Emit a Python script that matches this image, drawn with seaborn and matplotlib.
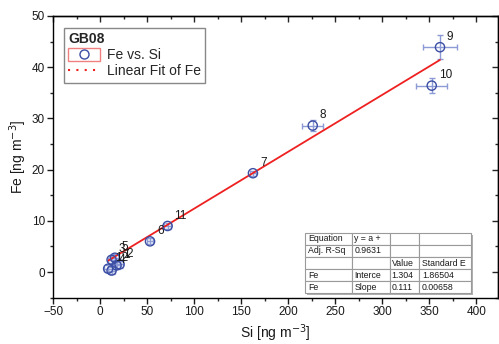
import matplotlib
matplotlib.use("Agg")
import matplotlib.pyplot as plt
import seaborn as sns
import numpy as np
import pandas as pd
from matplotlib.patches import Rectangle
from matplotlib.lines import Line2D
from matplotlib.legend_handler import HandlerTuple
from matplotlib.ticker import MultipleLocator

# ---- data ----
point_labels = ["1", "2", "3", "4", "5", "6", "7", "8", "9", "10", "11", "12"]
si = [17.3, 20.5, 12.0, 12.0, 15.5, 52.9, 162.4, 226.0, 361.4, 352.6, 71.6, 8.4]
fe = [1.3, 1.5, 2.4, 0.3, 2.8, 6.0, 19.3, 28.6, 43.9, 36.4, 9.0, 0.66]
si_err = [4.0, 4.0, 4.0, 4.0, 4.0, 3.5, 3.0, 11.0, 18.6, 16.4, 4.0, 4.0]
fe_err = [0.7, 0.7, 0.7, 0.7, 0.7, 0.6, 0.5, 1.1, 2.3, 1.5, 0.6, 0.7]

fit_intercept = 1.304
fit_slope = 0.111

table_rows = [
    ["Equation", "y = a +", "", ""],
    ["Adj. R-Sq", "0.9631", "", ""],
    ["", "", "Value", "Standard E"],
    ["Fe", "Interce", "1.304", "1.86504"],
    ["Fe", "Slope", "0.111", "0.00658"],
]

df = pd.DataFrame({"Si": si, "Fe": fe, "label": point_labels})

sns.set_theme(style="ticks")
plt.rcParams['font.family'] = ['Liberation Sans', 'DejaVu Sans']

fig = plt.figure(figsize=(4.99, 3.44), dpi=100)
ax = fig.add_axes([0.1068, 0.1346, 0.891, 0.819])

marker_color = "#3b4ea3"
err_color = "#8c9bd6"
fit_color = "#ee2020"

ax.errorbar(df["Si"], df["Fe"], xerr=si_err, yerr=fe_err, fmt="none",
            ecolor=err_color, elinewidth=1, capsize=2.5, capthick=1, zorder=2)

# fit line from table values
x_fit = np.array([min(si), max(si)])
y_fit = fit_intercept + fit_slope * x_fit
sns.lineplot(x=x_fit, y=y_fit, color=fit_color, linewidth=1.3, ax=ax, zorder=3)

sns.scatterplot(data=df, x="Si", y="Fe", marker="o", s=44, ax=ax, zorder=4,
                edgecolor=marker_color, linewidth=1.0)
ax.collections[-1].set_facecolor("none")
ax.collections[-1].set_edgecolor(marker_color)

for _, r in df.iterrows():
    ax.annotate(r["label"], (r["Si"], r["Fe"]), xytext=(5, 7.5),
                textcoords="offset points", ha="left", va="center",
                fontsize=8.5, color="#1a1a1a", zorder=5)

ax.set_xlim(-50, 423)
ax.set_ylim(-5, 50)
ax.xaxis.set_major_locator(MultipleLocator(50))
ax.xaxis.set_minor_locator(MultipleLocator(25))
ax.yaxis.set_major_locator(MultipleLocator(10))
ax.yaxis.set_minor_locator(MultipleLocator(5))
ax.tick_params(which="major", direction="out", length=4, width=1, labelsize=8.5,
               colors="#1a1a1a", pad=2)
ax.tick_params(which="minor", direction="out", length=2, width=1)

for sp in ax.spines.values():
    sp.set_visible(True)
    sp.set_color("black")
    sp.set_linewidth(1)

secx = ax.secondary_xaxis("top")
secx.xaxis.set_major_locator(MultipleLocator(50))
secx.xaxis.set_minor_locator(MultipleLocator(25))
secx.tick_params(which="major", direction="in", length=4, width=1, labeltop=False)
secx.tick_params(which="minor", direction="in", length=2, width=1)
secx.spines["top"].set_linewidth(1)

secy = ax.secondary_yaxis("right")
secy.yaxis.set_major_locator(MultipleLocator(10))
secy.yaxis.set_minor_locator(MultipleLocator(5))
secy.tick_params(which="major", direction="in", length=4, width=1, labelright=False)
secy.tick_params(which="minor", direction="in", length=2, width=1)
secy.spines["right"].set_linewidth(1)

ax.set_xlabel("Si [ng m$^{-3}$]", fontsize=10, labelpad=3, color="#1a1a1a")
ax.set_ylabel("Fe [ng m$^{-3}$]", fontsize=10, labelpad=2, color="#1a1a1a")

# legend
h_pts = (Rectangle((0, 0), 1, 1, fill=False, edgecolor="#f08080", linewidth=1),
         Line2D([], [], marker="o", ls="none", mfc="none", mec=marker_color, ms=6.5, mew=1))
h_fit = Line2D([], [], color=fit_color, ls=(0, (1, 3)), lw=1.5)
leg = ax.legend([h_pts, h_fit], ["Fe vs. Si", "Linear Fit of Fe"],
                handler_map={tuple: HandlerTuple(ndivide=1, pad=0)},
                title="GB08", title_fontproperties={"weight": "bold", "size": 10},
                loc="upper left", bbox_to_anchor=(0.024, 0.957), borderaxespad=0,
                fontsize=10, frameon=True, fancybox=False, edgecolor="#888888",
                framealpha=1, handlelength=2.3, handleheight=1.0, labelspacing=0.15,
                borderpad=0.3, handletextpad=0.5, alignment="left")
leg.get_frame().set_linewidth(1)

# parameter table
tb_x0, tb_y0, tb_w, tb_h = 0.566, 0.016, 0.373, 0.214
shadow = Rectangle((tb_x0 + 0.005, tb_y0 - 0.008), tb_w, tb_h, transform=ax.transAxes,
                   facecolor="#b0b0b0", edgecolor="none", zorder=6)
ax.add_patch(shadow)
tbl = ax.table(cellText=table_rows, colWidths=[47, 38, 29, 52],
               bbox=[tb_x0, tb_y0, tb_w, tb_h], cellLoc="left")
tbl.set_zorder(7)
tbl.auto_set_font_size(False)
for (r, c), cell in tbl.get_celld().items():
    cell.set_edgecolor("#9a9a9a")
    cell.set_linewidth(0.8)
    cell.set_facecolor("white")
    cell.get_text().set_fontsize(6.3)
    cell.get_text().set_color("#1a1a1a")
    cell.PAD = 0.06
    if c >= 2 and r >= 3:
        cell._loc = "right"
    elif c >= 2 and r == 2:
        cell._loc = "right" if c == 3 else "center"

fig.savefig("out.png", dpi=100)
